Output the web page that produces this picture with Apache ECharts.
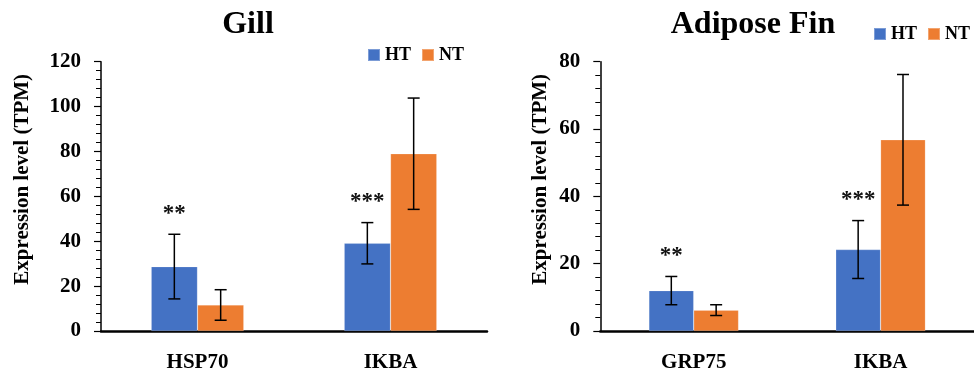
<!DOCTYPE html>
<html><head><meta charset="utf-8">
<script src="https://cdn.jsdelivr.net/npm/echarts@6/dist/echarts.min.js"></script>
<style>html,body{margin:0;padding:0;background:#fff}#c{width:974px;height:373px}</style>
</head><body><div id="c"></div>
<script>
const seriesNames = ['HT', 'NT'];
const gillTitle = 'Gill';
const gillCategories = ['HSP70', 'IKBA'];
const gillHT = [28.7, 39.1];
const gillHTErr = [14.4, 9.2];
const gillNT = [11.6, 79.0];
const gillNTErr = [6.8, 24.8];
const gillSig = ['**', '***'];
const gillMax = 120;

const finTitle = 'Adipose Fin';
const finCategories = ['GRP75', 'IKBA'];
const finHT = [12.0, 24.2];
const finHTErr = [4.2, 8.6];
const finNT = [6.2, 56.8];
const finNTErr = [1.6, 19.4];
const finSig = ['**', '***'];
const finMax = 80;

const yName = 'Expression level (TPM)';
const tickStep = 20;

const FONT = '"Liberation Serif", "DejaVu Serif", serif';
const BLUE = '#4472C4', ORANGE = '#ED7D31';

function errRender(side, sigArr) {
  return function (params, api) {
    const idx = api.value(0), v = api.value(1), e = api.value(2);
    const band = api.size([1, 0])[0];
    const x = api.coord([idx, v])[0] + side * band * 0.12;
    const yt = api.coord([idx, v + e])[1];
    const yb = api.coord([idx, v - e])[1];
    const cap = 6;
    const ls = { stroke: '#000', lineWidth: 1.5 };
    const children = [
      { type: 'line', shape: { x1: x, y1: yt, x2: x, y2: yb }, style: ls },
      { type: 'line', shape: { x1: x - cap, y1: yt, x2: x + cap, y2: yt }, style: ls },
      { type: 'line', shape: { x1: x - cap, y1: yb, x2: x + cap, y2: yb }, style: ls }
    ];
    const sig = sigArr ? sigArr[params.dataIndex] : '';
    if (sig) {
      children.push({ type: 'text', x: x, y: yt - 9,
        style: { text: sig, font: 'bold 23px ' + FONT, fill: '#111', align: 'center', verticalAlign: 'bottom' } });
    }
    return { type: 'group', children: children };
  };
}

function errData(vals, errs) { return vals.map((v, i) => [i, v, errs[i]]); }

function yAxisCfg(gridIndex, max, gap) {
  return {
    type: 'value', gridIndex: gridIndex, min: 0, max: max, interval: tickStep,
    name: yName, nameLocation: 'middle', nameRotate: 90, nameGap: gap,
    nameTextStyle: { fontFamily: FONT, fontWeight: 'bold', fontSize: 21, color: '#000', padding: [0, 0, 0, 34] },
    axisLine: { show: true, lineStyle: { color: '#000', width: 1.5 } },
    axisTick: { show: true, length: 7, lineStyle: { color: '#000', width: 1.2 } },
    minorTick: { show: true, splitNumber: 5, length: 5, lineStyle: { color: '#000', width: 1 } },
    splitLine: { show: false },
    axisLabel: { fontFamily: FONT, fontWeight: 'bold', fontSize: 21, color: '#000', margin: 20 }
  };
}
function xAxisCfg(gridIndex, cats) {
  return {
    type: 'category', gridIndex: gridIndex, data: cats,
    axisLine: { show: true, lineStyle: { color: '#000', width: 2.5 } },
    axisTick: { show: false },
    axisLabel: { fontFamily: FONT, fontWeight: 'bold', fontSize: 21, color: '#000', margin: 21 }
  };
}
function barCfg(name, idx, data, color) {
  return { name: name, type: 'bar', xAxisIndex: idx, yAxisIndex: idx, data: data,
    barWidth: '24%', barGap: '0%',
    itemStyle: { color: color, borderColor: 'rgba(255,255,255,0.3)', borderWidth: 0.6 } };
}
function errCfg(idx, side, vals, errs, sig) {
  return { type: 'custom', name: 'err' + idx + side, xAxisIndex: idx, yAxisIndex: idx,
    renderItem: errRender(side, sig), data: errData(vals, errs), z: 5, silent: true };
}
const legendStyle = { fontFamily: FONT, fontWeight: 'bold', fontSize: 18, color: '#000' };
const titleStyle = { fontFamily: FONT, fontWeight: 'bold', fontSize: 32, color: '#000' };

const chart = echarts.init(document.getElementById('c'), null, { renderer: 'canvas' });
chart.setOption({
  animation: false,
  backgroundColor: '#fff',
  title: [
    { text: gillTitle, left: 248, top: 9, textAlign: 'center', padding: 0, textStyle: titleStyle },
    { text: finTitle, left: 753, top: 9, textAlign: 'center', padding: 0, textStyle: titleStyle }
  ],
  legend: [
    { data: seriesNames, left: 367, top: 46, padding: 0, itemWidth: 12, itemHeight: 12, itemGap: 10, icon: 'rect', textStyle: legendStyle },
    { data: seriesNames, left: 873, top: 25, padding: 0, itemWidth: 12, itemHeight: 12, itemGap: 10, icon: 'rect', textStyle: legendStyle }
  ],
  grid: [
    { left: 101, top: 61.7, width: 386, height: 271.6 },
    { left: 600.3, top: 61.7, width: 380, height: 271.6 }
  ],
  xAxis: [xAxisCfg(0, gillCategories), xAxisCfg(1, finCategories)],
  yAxis: [yAxisCfg(0, gillMax, 68), yAxisCfg(1, finMax, 49)],
  series: [
    barCfg(seriesNames[0], 0, gillHT, BLUE),
    barCfg(seriesNames[1], 0, gillNT, ORANGE),
    barCfg(seriesNames[0], 1, finHT, BLUE),
    barCfg(seriesNames[1], 1, finNT, ORANGE),
    errCfg(0, -1, gillHT, gillHTErr, gillSig),
    errCfg(0, 1, gillNT, gillNTErr, null),
    errCfg(1, -1, finHT, finHTErr, finSig),
    errCfg(1, 1, finNT, finNTErr, null)
  ]
});
</script></body></html>
